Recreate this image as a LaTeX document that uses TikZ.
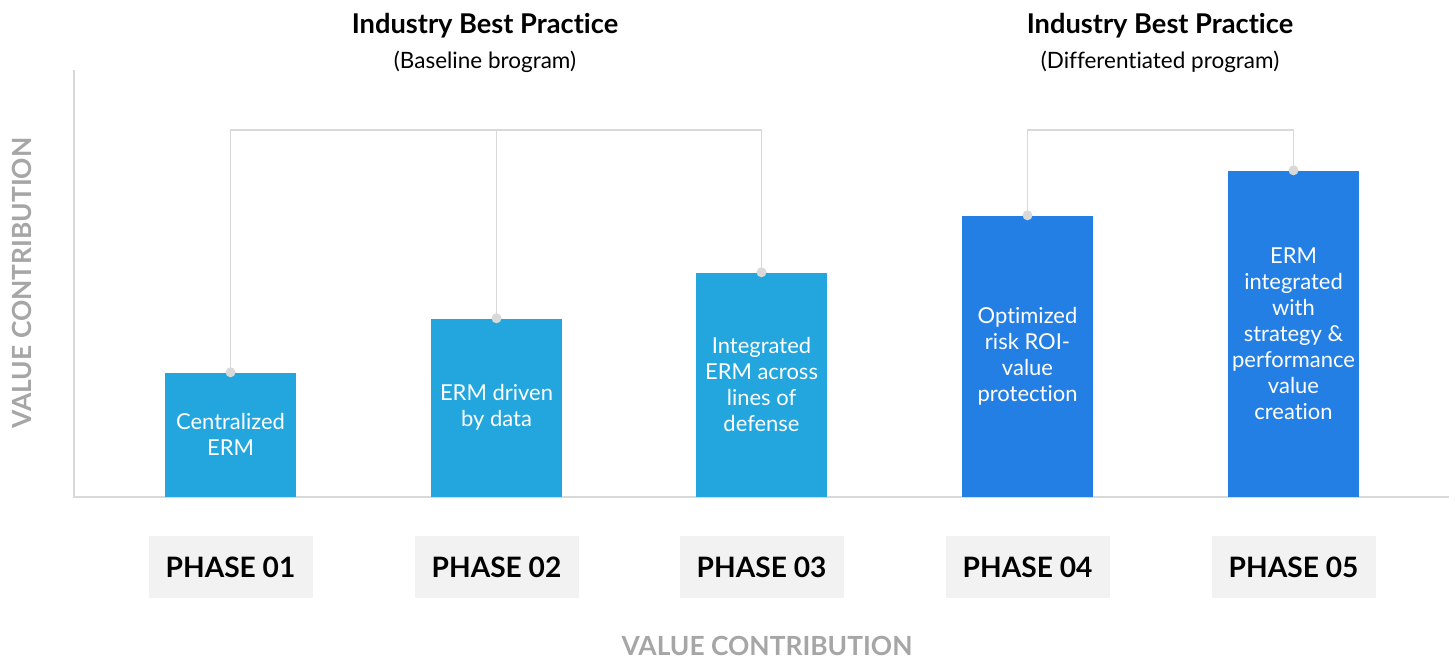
\documentclass[tikz,border=0pt]{standalone}
\usepackage{fontspec}
\setmainfont{Lato}[Ligatures={NoCommon}]
\usetikzlibrary{positioning}

\definecolor{lightblue}{RGB}{34,166,221}
\definecolor{darkblue}{RGB}{36,127,228}
\definecolor{linegray}{RGB}{217,217,217}
\definecolor{labelgray}{RGB}{166,166,166}
\definecolor{boxgray}{RGB}{242,242,242}

\tikzset{
  bar/.style={anchor=south, minimum width=2.62cm, inner sep=0pt, align=center,
    text=white, font=\fontsize{12.5}{14.8}\selectfont},
  lightbar/.style={bar, fill=lightblue},
  darkbar/.style={bar, fill=darkblue},
  phasebox/.style={fill=boxgray, minimum width=3.28cm, minimum height=1.24cm,
    font=\fontsize{16}{19}\selectfont\bfseries},
  axislabel/.style={text=labelgray, font=\fontsize{15}{17}\selectfont\bfseries},
  bracket/.style={draw=linegray, line width=0.85pt},
  title/.style={font=\fontsize{15.5}{18}\selectfont\bfseries},
  subtitle/.style={font=\fontsize{12.8}{15}\selectfont}
}

\begin{document}
\begin{tikzpicture}
  \useasboundingbox (0,0) rectangle (29.1,13.18);

  % Axes
  \draw[linegray, line width=0.85pt] (1.48,11.78) -- (1.48,3.24) -- (28.98,3.24);

  % Bars
  \node[lightbar, minimum height=2.48cm] (bar1) at (4.61,3.24) {Centralized\\ERM};
  \node[lightbar, minimum height=3.56cm] (bar2) at (9.93,3.24) {ERM driven\\by data};
  \node[lightbar, minimum height=4.48cm] (bar3) at (15.23,3.24) {Integrated\\ERM across\\lines of\\defense};
  \node[darkbar, minimum height=5.62cm] (bar4) at (20.55,3.24) {Optimized\\risk ROI-\\value\\protection};
  \node[darkbar, minimum height=6.52cm] (bar5) at (25.87,3.24) {ERM\\integrated\\with\\strategy \&\\performance\\value\\creation};

  % Brackets joining the bars
  \coordinate (top1) at (9.93,10.58);
  \coordinate (top2) at (20.55,10.58);
  \draw[bracket] (bar1.north) |- (top1) -| (bar3.north);
  \draw[bracket] (top1) -- (bar2.north);
  \draw[bracket] (bar4.north) -- (top2) -| (bar5.north);
  \foreach \b in {bar1,bar2,bar3,bar4,bar5}
    \fill[linegray] (\b.north) circle (0.1);

  % Group titles
  \node[title] (head1) at (9.70,12.66) {Industry Best Practice};
  \node[subtitle] (sub1) at (9.70,11.94) {(Baseline brogram)};
  \node[title] (head2) at (23.20,12.66) {Industry Best Practice};
  \node[subtitle] (sub2) at (23.20,11.94) {(Differentiated program)};

  % Phase labels
  \foreach \i/\x in {1/4.61,2/9.93,3/15.23,4/20.55,5/25.87}
    \node[phasebox] (phase\i) at (\x,1.84) {PHASE 0\i};

  % Axis labels
  \node[axislabel] (xlabel) at (15.34,0.27) {VALUE CONTRIBUTION};
  \node[axislabel, rotate=90] (ylabel) at (0.44,7.52) {VALUE CONTRIBUTION};
\end{tikzpicture}
\end{document}
